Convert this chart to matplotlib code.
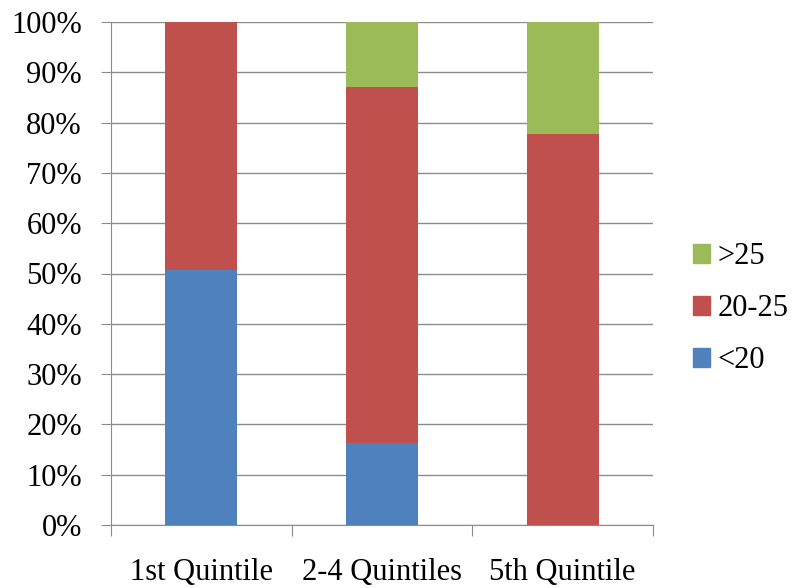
import matplotlib.pyplot as plt
import numpy as np
from matplotlib.patches import Patch

categories = ["1st Quintile", "2-4 Quintiles", "5th Quintile"]
under20 = [50.7, 16.4, 0.0]
mid20_25 = [49.3, 70.6, 77.7]
over25 = [0.0, 13.0, 22.3]

BLUE = "#4F81BD"
RED = "#C0504D"
GREEN = "#9BBB59"
GRID = "#8C8C8C"

plt.rcParams["font.family"] = ["Liberation Serif", "DejaVu Serif"]

fig = plt.figure(figsize=(7.95, 5.88), dpi=100)
ax = fig.add_axes([111 / 795, 1 - 525 / 588, (653 - 111) / 795, (525 - 22) / 588])

x = np.arange(len(categories))
w = 0.4
ax.bar(x, under20, w, color=BLUE, label="<20", zorder=3)
ax.bar(x, mid20_25, w, bottom=under20, color=RED, label="20-25", zorder=3)
bottom2 = np.array(under20) + np.array(mid20_25)
ax.bar(x, over25, w, bottom=bottom2, color=GREEN, label=">25", zorder=3)

ax.set_xlim(-0.5, len(categories) - 0.5)
ax.set_ylim(0, 100)
ax.set_yticks(np.arange(0, 101, 10))
ax.set_yticklabels([f"{v}%" for v in range(0, 101, 10)], fontsize=22)
ax.yaxis.grid(True, color=GRID, linewidth=1, zorder=0)

# category boundaries as major ticks, labels on minor ticks
ax.set_xticks(np.arange(-0.5, len(categories), 1.0))
ax.set_xticklabels([])
ax.set_xticks(x, minor=True)
ax.set_xticklabels(categories, minor=True, fontsize=22)
ax.tick_params(axis="x", which="minor", length=0, pad=24)
ax.tick_params(axis="x", which="major", length=8, color=GRID, direction="out")
ax.tick_params(axis="y", length=7, color=GRID, direction="out", pad=14)

for s in ["top", "right"]:
    ax.spines[s].set_visible(False)
for s in ["left", "bottom"]:
    ax.spines[s].set_color(GRID)

handles = [Patch(color=GREEN, label=">25"), Patch(color=RED, label="20-25"),
           Patch(color=BLUE, label="<20")]
fig.legend(handles=handles, loc="center left", bbox_to_anchor=(693 / 795, 0.475),
           frameon=False, fontsize=22, handlelength=0.55, handleheight=0.55,
           handletextpad=0.25, labelspacing=0.75, borderpad=0, borderaxespad=0)

fig.savefig("out.png", dpi=100)
